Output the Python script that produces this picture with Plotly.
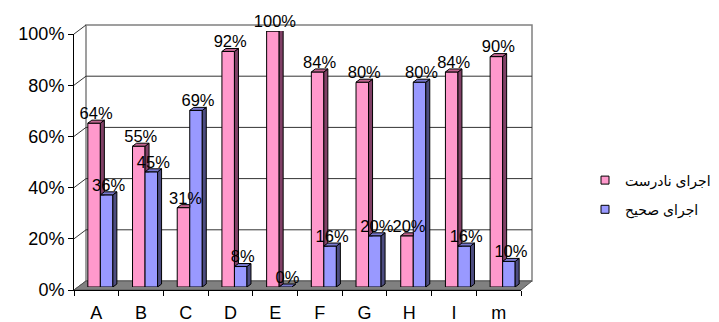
import plotly.graph_objects as go

# ---- data ----
categories = ["A", "B", "C", "D", "E", "F", "G", "H", "I", "m"]
wrong_exec = [0.64, 0.55, 0.31, 0.92, 1.00, 0.84, 0.80, 0.20, 0.84, 0.90]   # اجرای نادرست
right_exec = [0.36, 0.45, 0.69, 0.08, 0.00, 0.16, 0.20, 0.80, 0.16, 0.10]   # اجرای صحیح
series_names = ["اجرای نادرست", "اجرای صحیح"]
y_ticks = [0, 0.2, 0.4, 0.6, 0.8, 1.0]

# ---- layout geometry (pixels) ----
W_FIG, H_FIG = 719, 322
FRONT_L, FRONT_R, FRONT_0, FRONT_100 = 74, 521, 290, 34      # front axis plane
BACK_L, BACK_R, BACK_0, BACK_100 = 86, 532, 281, 25          # back wall plane
BAR_L, BAR_R, BAR_0, BAR_100 = 78, 525, 287, 31              # plane of bar fronts
BAR_W = 0.28                                                # bar width, category units
DEPTH_PX_X, DEPTH_PX_Y = 4, 3                               # bar depth in pixels

PINK, PINK_SIDE, PINK_TOP = "#FF99CC", "#804066", "#C0648F"
BLUE, BLUE_SIDE, BLUE_TOP = "#9999FF", "#4C4C80", "#7878CC"
FONT = "Arial, Liberation Sans, DejaVu Sans, sans-serif"


def px(x):
    return x / W_FIG


def py(y):
    return 1 - y / H_FIG


n = len(categories)
DX = DEPTH_PX_X / ((BAR_R - BAR_L) / n)
DY = DEPTH_PX_Y / (BAR_0 - BAR_100)

fig = go.Figure()

# front faces of the bars
fig.add_trace(go.Bar(x=list(range(n)), y=wrong_exec, width=BAR_W, offset=-BAR_W,
                     marker=dict(color=PINK, line=dict(color="black", width=1)),
                     showlegend=False, hoverinfo="skip"))
fig.add_trace(go.Bar(x=list(range(n)), y=right_exec, width=BAR_W, offset=0,
                     marker=dict(color=BLUE, line=dict(color="black", width=1)),
                     showlegend=False, hoverinfo="skip"))


def polys_trace(polys, color):
    xs, ys = [], []
    for poly in polys:
        for (a, b) in poly + [poly[0]]:
            xs.append(a)
            ys.append(b)
        xs.append(None)
        ys.append(None)
    return go.Scatter(x=xs, y=ys, mode="lines", fill="toself", fillcolor=color,
                      line=dict(color="black", width=1), showlegend=False,
                      hoverinfo="skip")


pink_side, pink_top, blue_side, blue_top = [], [], [], []
for i, (p, b) in enumerate(zip(wrong_exec, right_exec)):
    # pink side: only the part that rises above the neighbouring blue bar
    if p > b:
        pink_side.append([(i, b), (i, p), (i + DX, p + DY), (i + DX, max(b, DY))])
        pink_top.append([(i - BAR_W, p), (i, p), (i + DX, p + DY), (i - BAR_W + DX, p + DY)])
    else:
        pink_top.append([(i - BAR_W, p), (i, p), (i, p + DY), (i - BAR_W + DX, p + DY)])
    blue_side.append([(i + BAR_W, 0), (i + BAR_W, b), (i + BAR_W + DX, b + DY), (i + BAR_W + DX, DY)])
    blue_top.append([(i, b), (i + BAR_W, b), (i + BAR_W + DX, b + DY), (i + DX, b + DY)])

fig.add_trace(polys_trace(pink_side, PINK_SIDE))
fig.add_trace(polys_trace(pink_top, PINK_TOP))
fig.add_trace(polys_trace(blue_side, BLUE_SIDE))
fig.add_trace(polys_trace(blue_top, BLUE_TOP))

# value labels
for vals, off in ((wrong_exec, -BAR_W / 2), (right_exec, BAR_W / 2)):
    fig.add_trace(go.Scatter(
        x=[i + off + DX / 2 for i in range(n)], y=vals, mode="text",
        text=[f"{round(v * 100)}%" for v in vals], textposition="top center",
        textfont=dict(family=FONT, size=16.5, color="black"),
        showlegend=False, hoverinfo="skip", cliponaxis=False))

# front category axis carrier
fig.add_trace(go.Scatter(x=categories, y=[None] * n, xaxis="x2", yaxis="y2",
                         mode="markers", showlegend=False, hoverinfo="skip"))

# legend entries
for name, col in zip(series_names, (PINK, BLUE)):
    fig.add_trace(go.Scatter(x=[None], y=[None], mode="markers", name=name,
                             legendgroup=name,
                             marker=dict(symbol="square", size=8, color=col,
                                         line=dict(color="black", width=1))))

# ---- walls and floor ----
shapes = []
# back wall
shapes.append(dict(type="rect", xref="paper", yref="paper",
                   x0=px(BACK_L), x1=px(BACK_R), y0=py(BACK_0), y1=py(BACK_100),
                   line=dict(color="#808080", width=1.5), fillcolor="white", layer="below"))
for t in y_ticks:
    yb = BACK_0 - t * (BACK_0 - BACK_100)
    yf = FRONT_0 - t * (FRONT_0 - FRONT_100)
    if 0 < t < 1:
        shapes.append(dict(type="line", xref="paper", yref="paper",
                           x0=px(BACK_L), x1=px(BACK_R), y0=py(yb), y1=py(yb),
                           line=dict(color="#333333", width=1), layer="below"))
    # side wall gridline
    shapes.append(dict(type="line", xref="paper", yref="paper",
                       x0=px(FRONT_L), x1=px(BACK_L), y0=py(yf), y1=py(yb),
                       line=dict(color="#333333", width=1), layer="below"))
# floor
floor = [(FRONT_L, FRONT_0), (FRONT_R, FRONT_0), (BACK_R, BACK_0), (BACK_L, BACK_0)]
path = "M " + " L ".join(f"{px(a):.5f},{py(b):.5f}" for a, b in floor) + " Z"
shapes.append(dict(type="path", xref="paper", yref="paper", path=path,
                   fillcolor="#808080", line=dict(color="#555555", width=1), layer="below"))

fig.update_layout(
    width=W_FIG, height=H_FIG, autosize=False,
    margin=dict(l=0, r=0, t=0, b=0, pad=0),
    paper_bgcolor="white", plot_bgcolor="rgba(0,0,0,0)",
    barmode="overlay", shapes=shapes,
    font=dict(family=FONT, color="black"),
    xaxis=dict(domain=[px(BAR_L), px(BAR_R)], range=[-0.5, n - 0.5],
               visible=False, fixedrange=True, automargin=False),
    yaxis=dict(domain=[py(BAR_0), py(BAR_100)], range=[0, 1],
               visible=False, fixedrange=True, automargin=False),
    xaxis2=dict(domain=[px(FRONT_L), px(FRONT_R)], anchor="y2", type="category",
                categoryorder="array", categoryarray=categories,
                range=[-0.5, n - 0.5], tickson="boundaries",
                ticks="outside", ticklen=5, tickcolor="black",
                ticklabelstandoff=6,
                showline=True, linecolor="black", linewidth=1,
                showgrid=False, zeroline=False, automargin=False,
                tickfont=dict(family=FONT, size=18, color="black")),
    yaxis2=dict(domain=[py(FRONT_0), py(FRONT_100)], anchor="x2", range=[0, 1],
                tickvals=y_ticks, tickformat=".0%",
                ticks="outside", ticklen=5, tickcolor="black",
                showline=True, linecolor="black", linewidth=1,
                showgrid=False, zeroline=False, automargin=False,
                tickfont=dict(family=FONT, size=18, color="black")),
    legend=dict(x=px(585), y=py(195), xanchor="left", yanchor="middle",
                font=dict(family=FONT, size=14, color="black"),
                tracegroupgap=8, itemwidth=30, bgcolor="rgba(0,0,0,0)"),
)

fig.write_html("out.html")
